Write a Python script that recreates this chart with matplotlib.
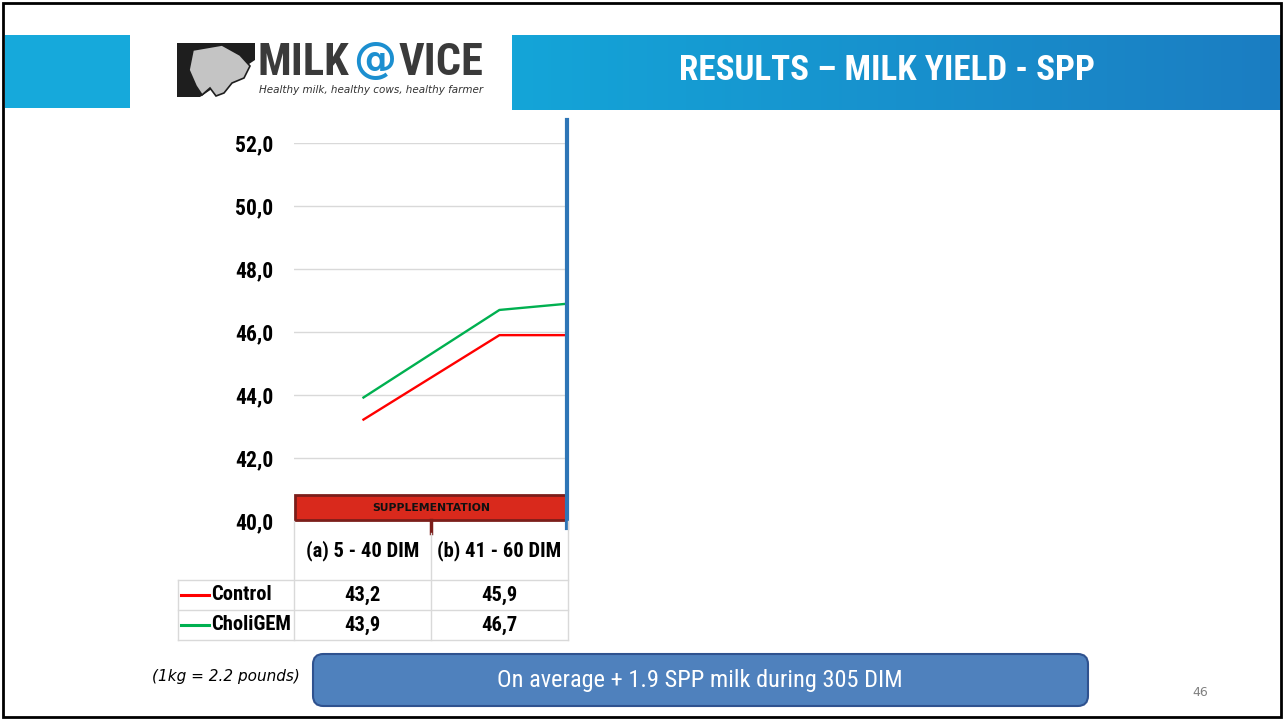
import numpy as np
import matplotlib
matplotlib.use("Agg")
import matplotlib.pyplot as plt
from matplotlib import font_manager as fm
from matplotlib.patches import Rectangle, FancyBboxPatch, Polygon
from matplotlib.colors import LinearSegmentedColormap

W, H = 1283, 720

# data
periods = ["(a) 5 - 40 DIM", "(b) 41 - 60 DIM"]
series_names = ["Control", "CholiGEM"]
series_colors = ["#FF0000", "#00B050"]
# third point lies past the cropped right edge of the plot
control = [43.2, 45.9, 45.9]
choligem = [43.9, 46.7, 47.1]
table_control = ["43,2", "45,9"]
table_choligem = ["43,9", "46,7"]
yticks = [40, 42, 44, 46, 48, 50, 52]

title = "RESULTS \u2013 MILK YIELD - SPP"
tagline = "Healthy milk, healthy cows, healthy farmer"
note = "(1kg = 2.2 pounds)"
callout = "On average + 1.9 SPP milk during 305 DIM"
page = "46"

# pick a narrow font if one is installed
ttf = fm.fontManager.ttflist
names = {f.name for f in ttf}
COND = dict(family=["DejaVu Sans"])
if "Liberation Sans Narrow" in names:
    COND = dict(family=["Liberation Sans Narrow", "DejaVu Sans"])
elif "Roboto Condensed" in names:
    COND = dict(family=["Roboto Condensed", "DejaVu Sans"])
elif any(f.name == "DejaVu Sans" and f.stretch == "condensed" for f in ttf):
    COND = dict(family=["DejaVu Sans"], fontstretch="condensed")


def fx(x):
    return x / W


def fy(y):
    return 1 - y / H


fig = plt.figure(figsize=(W / 100, H / 100), dpi=100)
fig.patch.set_facecolor("white")
renderer = fig.canvas.get_renderer()


def fit(t, width_px):
    w = t.get_window_extent(renderer).width
    t.set_fontsize(t.get_fontsize() * width_px / w)
    return t.get_fontsize()


# slide border
fig.add_artist(Rectangle((fx(3), fy(717)), fx(1278), 714 / H, transform=fig.transFigure,
                         fill=False, edgecolor="black", linewidth=2))

# header banner
fig.add_artist(Rectangle((fx(5), fy(108)), fx(125), 73 / H, transform=fig.transFigure,
                         facecolor="#16A9DB", edgecolor="none"))
gax = fig.add_axes([fx(512), fy(110), fx(769), 75 / H])
cmap = LinearSegmentedColormap.from_list("hdr", ["#14A5D8", "#1B7DC2"])
gax.imshow(np.linspace(0, 1, 256).reshape(1, -1), aspect="auto", cmap=cmap, extent=[0, 1, 0, 1])
gax.set_axis_off()
t = fig.text(fx(887), fy(71), title, color="white", fontsize=25, fontweight="bold",
             ha="center", va="center", **COND)
fit(t, 415)

# logo (rough)
fig.add_artist(Polygon([(fx(177), fy(43)), (fx(255), fy(43)), (fx(255), fy(60)),
                        (fx(200), fy(97)), (fx(177), fy(97))], closed=True,
                       transform=fig.transFigure, facecolor="#1E1E1E", edgecolor="none"))
udder = [(193, 50), (222, 45), (240, 55), (250, 66), (244, 78), (232, 83), (224, 93),
         (216, 96), (210, 88), (202, 95), (196, 86), (189, 70)]
fig.add_artist(Polygon([(fx(a), fy(b)) for a, b in udder], closed=True,
                       transform=fig.transFigure, facecolor="#C4C4C4",
                       edgecolor="#1E1E1E", linewidth=1.2))
t = fig.text(fx(258), fy(63), "MILK", color="#3A3A3A", fontsize=34, fontweight="heavy",
             ha="left", va="center", **COND)
fit(t, 92)
fig.text(fx(375), fy(61), "@", color="#1C8FD0", fontsize=31, fontweight="bold",
         ha="center", va="center", family="DejaVu Sans")
t = fig.text(fx(399), fy(63), "VICE", color="#3A3A3A", fontsize=34, fontweight="heavy",
             ha="left", va="center", **COND)
fit(t, 85)
t = fig.text(fx(371), fy(90), tagline, color="#333333", fontsize=8, style="italic",
             ha="center", va="center")
fit(t, 225)

# chart area
ax = fig.add_axes([fx(294), fy(521), fx(272), 378 / H])
x = np.arange(len(control))
for vals, c in zip([control, choligem], series_colors):
    ax.plot(x, vals, color=c, linewidth=1.7, solid_capstyle="butt")
ax.set_xlim(-0.5, 1.486)
ax.set_ylim(40, 52)
ax.set_yticks(yticks)
ax.set_xticks([])
ax.grid(axis="y", color="#D9D9D9", linewidth=1)
ax.set_axisbelow(True)
for s in ax.spines.values():
    s.set_visible(False)

# size for table text: fit the first header into its measured width
probe = fig.text(0, 0, periods[0], fontsize=13, fontweight="bold", **COND)
tsize = fit(probe, 113)
probe.remove()

ax.set_yticklabels([f"{v:.1f}".replace(".", ",") for v in yticks])
for lab in ax.get_yticklabels():
    lab.set_fontsize(tsize * 1.05)
    lab.set_fontweight("bold")
    lab.set_family(COND["family"])
    if "fontstretch" in COND:
        lab.set_fontstretch(COND["fontstretch"])
ax.tick_params(axis="y", length=0, pad=15)

# blue vertical line
fig.add_artist(plt.Line2D([fx(567), fx(567)], [fy(120), fy(528)], transform=fig.transFigure,
                          color="#2E75B6", linewidth=3))

# supplementation box
fig.add_artist(Rectangle((fx(295), fy(520)), fx(272), 25 / H, transform=fig.transFigure,
                         facecolor="#D9291C", edgecolor="#7B1E1A", linewidth=2))
t = fig.text(fx(431), fy(508), "SUPPLEMENTATION", fontsize=8, fontweight="bold",
             ha="center", va="center", color="#111111")
fit(t, 118)
fig.add_artist(plt.Line2D([fx(431), fx(431)], [fy(520), fy(533)], transform=fig.transFigure,
                          color="#7B1E1A", linewidth=2.5))

# data table
gc = "#D9D9D9"
col_edges = [178, 294, 431, 568]
row_edges = [521, 580, 610, 640]
lines_spec = [
    ([294, 294], [521, 640]), ([431, 431], [533, 640]), ([568, 568], [521, 640]),
    ([178, 178], [580, 640]),
    ([178, 568], [580, 580]), ([178, 568], [610, 610]), ([178, 568], [640, 640]),
]
for xs, ys in lines_spec:
    fig.add_artist(plt.Line2D([fx(v) for v in xs], [fy(v) for v in ys],
                              transform=fig.transFigure, color=gc, linewidth=1))

for i, lab in enumerate(periods):
    cx = (col_edges[i + 1] + col_edges[i + 2]) / 2
    fig.text(fx(cx), fy(551), lab, fontsize=tsize, fontweight="bold",
             ha="center", va="center", **COND)

for r, (name, col, vals) in enumerate(zip(series_names, series_colors,
                                            [table_control, table_choligem])):
    cy = (row_edges[r + 1] + row_edges[r + 2]) / 2
    fig.add_artist(plt.Line2D([fx(181), fx(209)], [fy(cy), fy(cy)], transform=fig.transFigure,
                              color=col, linewidth=2.2))
    fig.text(fx(211), fy(cy), name, fontsize=tsize, fontweight="bold",
             ha="left", va="center", **COND)
    for i, v in enumerate(vals):
        cx = (col_edges[i + 1] + col_edges[i + 2]) / 2
        fig.text(fx(cx), fy(cy), v, fontsize=tsize, fontweight="bold",
                 ha="center", va="center", **COND)

# bottom notes
fig.text(fx(226), fy(677), note, fontsize=11, style="italic", ha="center", va="center")
fig.add_artist(FancyBboxPatch((fx(313), fy(706)), fx(775), 52 / H,
                              boxstyle="round,pad=0,rounding_size=0.008",
                              transform=fig.transFigure, facecolor="#4F81BD",
                              edgecolor="#2F528F", linewidth=1.5, mutation_aspect=W / H))
t = fig.text(fx(700), fy(681), callout, fontsize=17, color="white",
             ha="center", va="center", **COND)
fit(t, 406)
fig.text(fx(1200), fy(692), page, fontsize=9, color="#7F7F7F", ha="center", va="center")

fig.savefig("out.png", dpi=100, facecolor="white")
